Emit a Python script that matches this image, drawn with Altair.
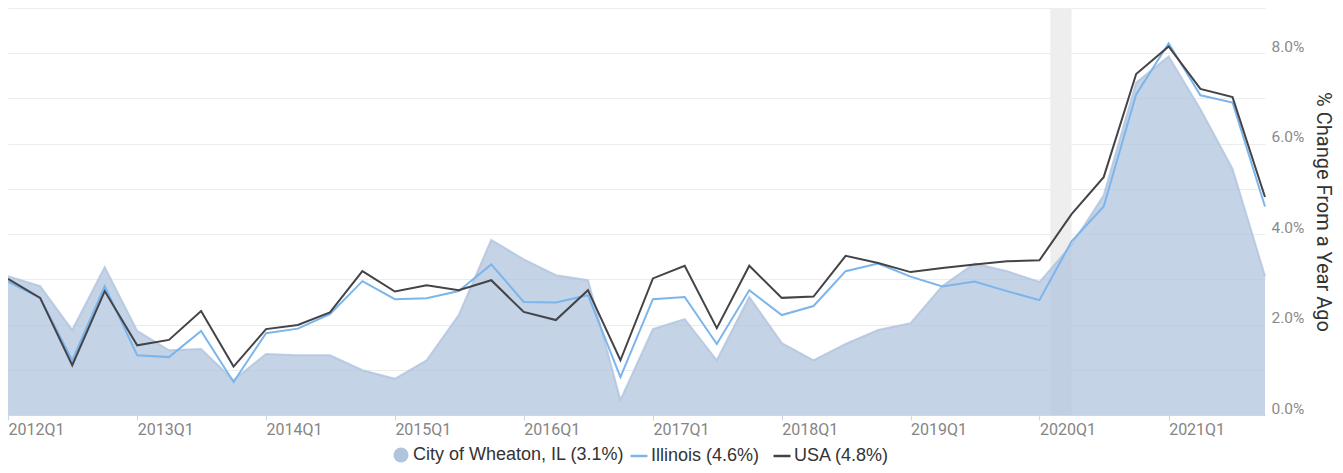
import altair as alt
import pandas as pd

# ---- data ----
quarters = [f"{y}Q{q}" for y in range(2012, 2022) for q in range(1, 5)]
quarter_dates = [f"{y}-{m:02d}-01" for y in range(2012, 2022) for m in (1, 4, 7, 10)]

CITY = "City of Wheaton, IL (3.1%)"
IL = "Illinois (4.6%)"
US = "USA (4.8%)"
series_names = [CITY, IL, US]
series_colors = ["#b0c4de", "#7cb5ec", "#434348"]

city = [3.07, 2.85, 1.88, 3.27, 1.86, 1.43, 1.46, 0.77, 1.35, 1.32,
        1.32, 0.99, 0.80, 1.21, 2.21, 3.87, 3.44, 3.09, 2.98, 0.33,
        1.90, 2.12, 1.21, 2.61, 1.59, 1.21, 1.57, 1.88, 2.03, 2.85,
        3.35, 3.18, 2.94, 3.76, 4.86, 7.35, 7.93, 6.76, 5.44, 3.07]
illinois = [2.95, 2.59, 1.21, 2.85, 1.32, 1.28, 1.86, 0.73, 1.81, 1.91,
            2.23, 2.96, 2.56, 2.58, 2.74, 3.33, 2.50, 2.49, 2.65, 0.84,
            2.56, 2.61, 1.57, 2.76, 2.21, 2.41, 3.18, 3.35, 3.06, 2.84,
            2.95, 2.74, 2.54, 3.84, 4.61, 7.09, 8.22, 7.07, 6.91, 4.61]
usa = [3.01, 2.59, 1.10, 2.74, 1.54, 1.66, 2.30, 1.07, 1.90, 1.99,
       2.27, 3.18, 2.73, 2.87, 2.76, 2.98, 2.28, 2.10, 2.76, 1.21,
       3.02, 3.30, 1.92, 3.30, 2.59, 2.62, 3.52, 3.36, 3.16, 3.25,
       3.33, 3.40, 3.42, 4.44, 5.26, 7.54, 8.15, 7.21, 7.03, 4.82]

recession_start = ["2020-02-01"]
recession_end = ["2020-04-01"]

tick_years = list(range(2012, 2022))
y_ticks = list(range(0, 10))

# ---- tables ----
rows = []
for name, vals in zip(series_names, [city, illinois, usa]):
    for d, q, v in zip(quarter_dates, quarters, vals):
        rows.append({"date": d, "quarter": q, "series": name, "value": v})
df = pd.DataFrame(rows)
df_city = df[df.series == CITY]
df_lines = df[df.series != CITY]
rec = pd.DataFrame({"start": recession_start, "end": recession_end})

legend_common = dict(
    orient="none", direction="horizontal", title=None,
    labelFont="Liberation Sans", labelFontSize=18, labelColor="#333333",
    columnPadding=8, labelLimit=500, padding=0,
    symbolOpacity=1, legendY=438,
)

x_scale = alt.Scale(
    type="utc", nice=False,
    domain=[alt.DateTime(year=2012, month=1, date=1, utc=True),
            alt.DateTime(year=2021, month=10, date=1, utc=True)],
)
x_axis = alt.Axis(
    values=[alt.DateTime(year=y, month=1, date=1, utc=True) for y in tick_years],
    labelExpr="utcFormat(datum.value, '%Y') + 'Q1'",
    labelAlign="left", labelFont="Roboto", labelFontSize=16, labelColor="#858585",
    tickColor="#ccd6eb", domainColor="#ccd6eb", tickSize=5, labelPadding=1,
    grid=False, title=None, labelFlush=False, labelOverlap=False,
)
y_scale = alt.Scale(domain=[0, 9], nice=False, zero=True)
y_axis = alt.Axis(
    orient="right", values=y_ticks,
    labelExpr="datum.value % 2 === 0 ? format(datum.value, '.1f') + '%' : ''",
    labelFont="Roboto", labelFontSize=15.5, labelColor="#8a8a8a",
    labelOffset=-7, labelPadding=6, ticks=False, domain=False,
    gridColor="#ececec", gridWidth=1,
    title="% Change From a Year Ago", titleFont="Roboto", titleFontSize=20,
    titleFontWeight="normal", titleColor="#333333", titlePadding=9,
)

band = alt.Chart(rec).mark_rect(color="#eeeeee").encode(
    x=alt.X("start:T", scale=x_scale, axis=x_axis),
    x2="end:T",
)

area = alt.Chart(df_city).mark_area(opacity=0.75).encode(
    x=alt.X("date:T", scale=x_scale, axis=x_axis),
    y=alt.Y("value:Q", scale=y_scale, axis=y_axis),
    fill=alt.Fill("series:N",
                  scale=alt.Scale(domain=[CITY], range=[series_colors[0]]),
                  legend=alt.Legend(symbolType="circle", symbolSize=225,
                                    labelOffset=3, legendX=384, **legend_common)),
)

area_edge = alt.Chart(df_city).mark_line(
    color="#b0c4de", strokeWidth=2, opacity=0.8
).encode(
    x=alt.X("date:T", scale=x_scale, axis=x_axis),
    y=alt.Y("value:Q", scale=y_scale, axis=y_axis),
)

lines = alt.Chart(df_lines).mark_line(strokeWidth=2).encode(
    x=alt.X("date:T", scale=x_scale, axis=x_axis),
    y=alt.Y("value:Q", scale=y_scale, axis=y_axis),
    stroke=alt.Stroke("series:N",
                      scale=alt.Scale(domain=[IL, US], range=series_colors[1:]),
                      legend=alt.Legend(symbolType="stroke", symbolStrokeWidth=2.5,
                                        symbolSize=289, labelOffset=2, legendX=621,
                                        **legend_common)),
    order=alt.Order("series:N"),
)

chart = alt.layer(band, area, area_edge, lines).properties(
    width=1257, height=407,
    autosize=alt.AutoSizeParams(type="none"),
    padding={"left": 0, "top": 0, "right": 70, "bottom": 50},
).configure_view(stroke=None)

chart.save("out.html", embed_options={"renderer": "svg", "actions": False})
